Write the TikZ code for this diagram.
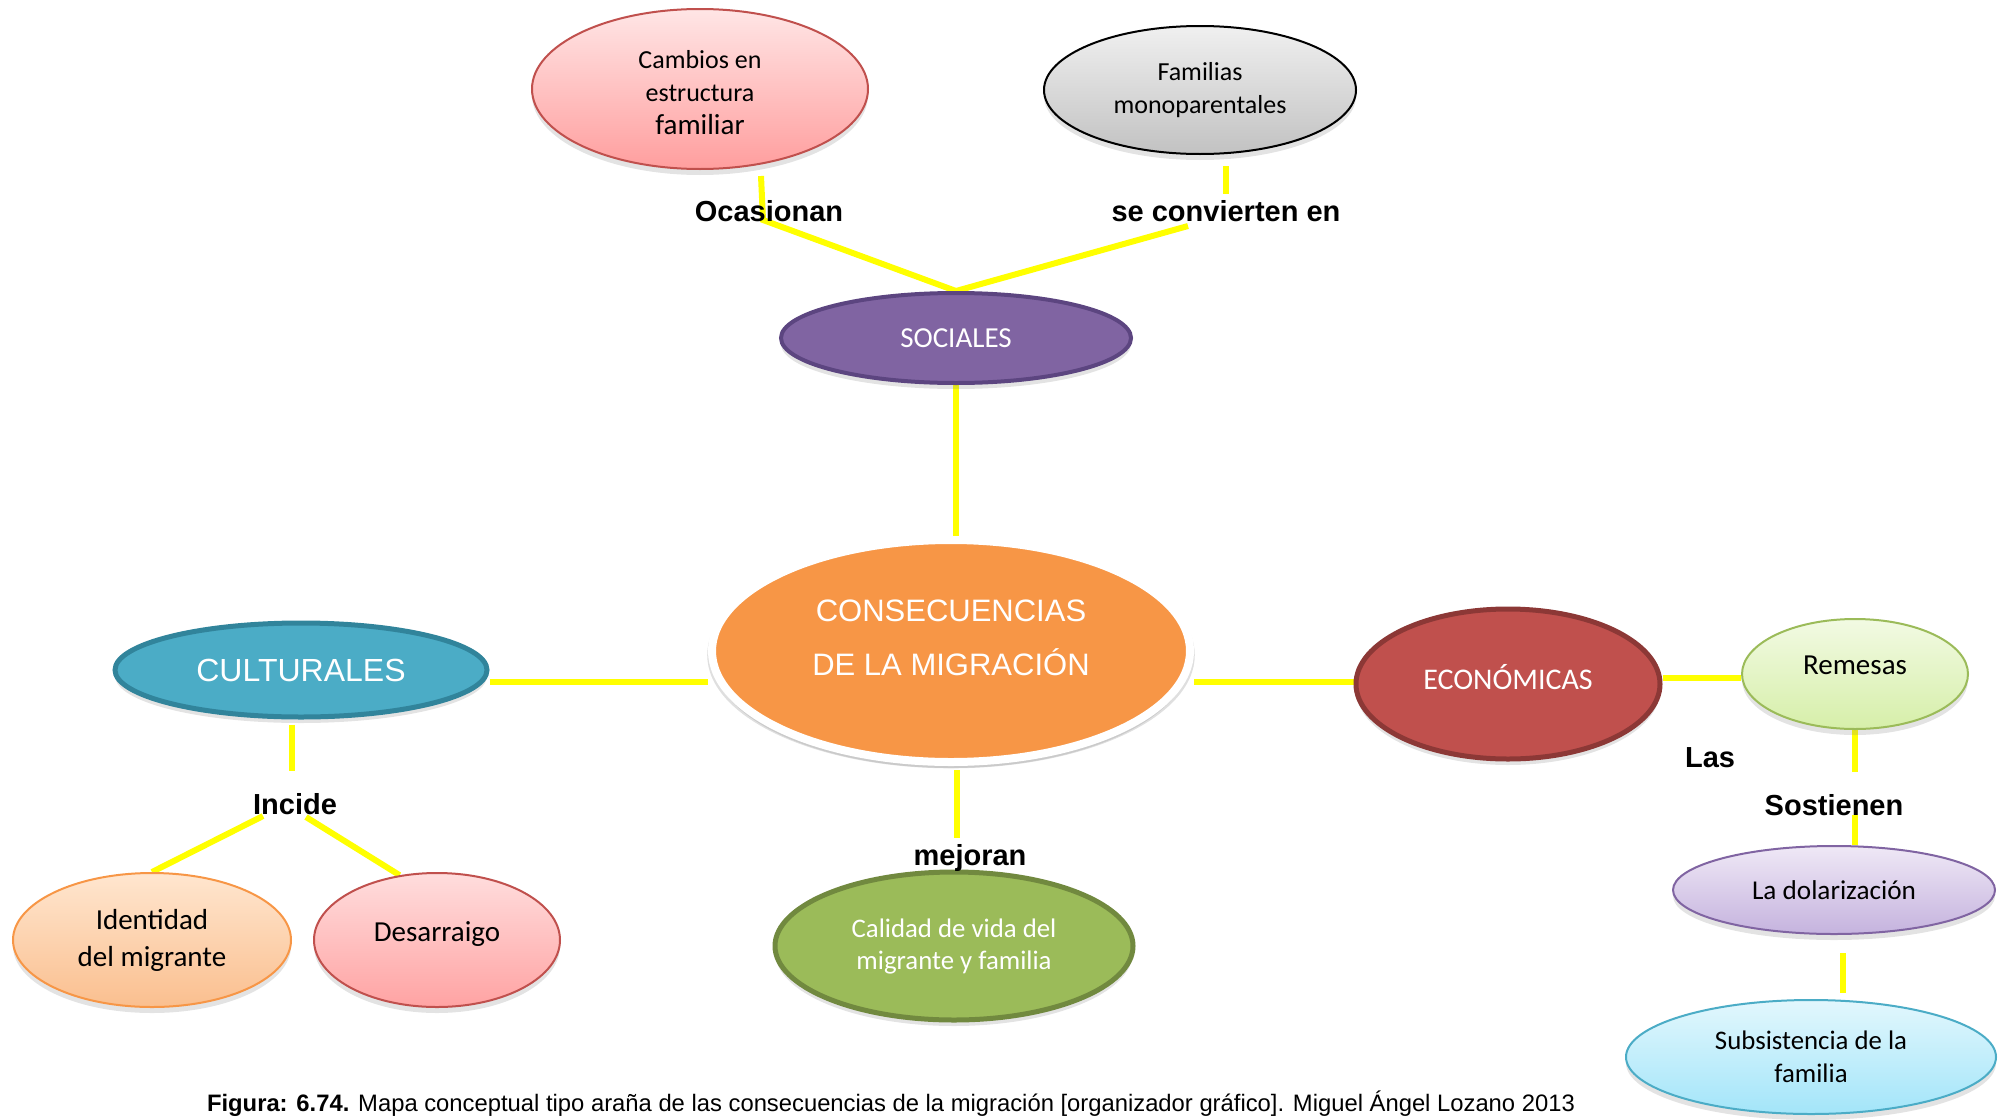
\documentclass[tikz,border=0pt]{standalone}
\usepackage{fontspec}
\setmainfont{Carlito}
\newfontfamily\arialf{Liberation Sans}
\usetikzlibrary{shapes.geometric,shadows,backgrounds}
\definecolor{ylw}{HTML}{FFFF00}
\begin{document}
\begin{tikzpicture}[x=0.5pt,y=-0.5pt,
  ell/.style={ellipse, inner sep=0pt, align=center,
    drop shadow={shadow xshift=0pt, shadow yshift=-3pt, opacity=0.22}},
  conn/.style={draw=ylw, line width=3pt},
  lbl/.style={font=\arialf\bfseries\fontsize{14.5}{17}\selectfont, inner sep=0pt},
  cal13/.style={font=\fontsize{13}{16.5}\selectfont},
  cal14/.style={font=\fontsize{14.5}{18.5}\selectfont},
]
\useasboundingbox (0,0) rectangle (2002,1119);

% ---- ellipses ----
\node[ell, minimum width=168pt, minimum height=80pt, top color=red!10!white, bottom color={rgb,255:red,255;green,158;blue,158}, draw={rgb,255:red,192;green,80;blue,77}, line width=1pt,
  label={[yshift=-2pt, cal13, align=center]center:Cambios en\\estructura\\{\fontsize{14.5}{16.5}\selectfont familiar}}]
  (camb) at (700,89) {};
\node[ell, cal13, minimum width=156pt, minimum height=64pt, top color=black!6, bottom color=black!24, draw=black, line width=1pt]
  (fam) at (1200,90) {Familias\\monoparentales};
\node[ell, cal14, minimum width=175pt, minimum height=45pt, fill={rgb,255:red,128;green,100;blue,162}, draw={rgb,255:red,92;green,69;blue,128}, line width=2pt, text=white]
  (soc) at (956,338) {SOCIALES};
\node[ell, minimum width=239pt, minimum height=111pt, fill={rgb,255:red,247;green,150;blue,70}, draw=white, line width=4pt,
  drop shadow={shadow xshift=0pt, shadow yshift=-2pt, shadow scale=1.02, opacity=0.25},
  label={[yshift=6.5pt, font=\arialf\fontsize{15.5}{27}\selectfont, text=white, align=center]center:CONSECUENCIAS\\DE LA MIGRACIÓN}]
  (cons) at (951,651) {};
\node[ell, minimum width=186pt, minimum height=47pt, fill={rgb,255:red,75;green,172;blue,198}, draw={rgb,255:red,49;green,132;blue,155}, line width=2.5pt, text=white, font=\arialf\fontsize{16}{19}\selectfont]
  (cult) at (301,670) {CULTURALES};
\node[ell, minimum width=152pt, minimum height=75pt, fill={rgb,255:red,192;green,80;blue,77}, draw={rgb,255:red,140;green,56;blue,54}, line width=2.5pt,
  label={[yshift=3.5pt, font=\fontsize{15}{18}\selectfont, text=white]center:ECONÓMICAS}]
  (econ) at (1508,684) {};
\node[ell, minimum width=113pt, minimum height=55pt, top color={rgb,255:red,242;green,250;blue,227}, bottom color={rgb,255:red,214;green,239;blue,169}, draw={rgb,255:red,155;green,187;blue,89}, line width=1pt,
  label={[yshift=4.5pt, cal14]center:Remesas}]
  (rem) at (1855,674) {};
\node[ell, font=\fontsize{13.6}{16.5}\selectfont, minimum width=161pt, minimum height=44pt, top color={rgb,255:red,239;green,232;blue,246}, bottom color={rgb,255:red,197;green,179;blue,222}, draw={rgb,255:red,128;green,100;blue,162}, line width=1pt]
  (dol) at (1834,890) {La dolarización};
\node[ell, font=\fontsize{13.4}{16.5}\selectfont, minimum width=185pt, minimum height=57pt, top color={rgb,255:red,226;green,247;blue,253}, bottom color={rgb,255:red,163;green,229;blue,249}, draw={rgb,255:red,75;green,172;blue,198}, line width=1pt]
  (subs) at (1811,1057) {Subsistencia de la\\familia};
\node[ell, font=\fontsize{13.4}{16}\selectfont, minimum width=179pt, minimum height=74pt, fill={rgb,255:red,155;green,187;blue,89}, draw={rgb,255:red,113;green,137;blue,63}, line width=2.5pt, text=white]
  (cal) at (954,946) {Calidad de vida del\\migrante y familia};
\node[ell, cal14, minimum width=139pt, minimum height=67pt, top color={rgb,255:red,255;green,230;blue,207}, bottom color={rgb,255:red,250;green,191;blue,143}, draw={rgb,255:red,247;green,150;blue,70}, line width=1pt]
  (iden) at (152,940) {Identidad\\del migrante};
\node[ell, minimum width=123pt, minimum height=67pt, top color={rgb,255:red,255;green,221;blue,221}, bottom color={rgb,255:red,255;green,163;blue,163}, draw={rgb,255:red,192;green,80;blue,77}, line width=1pt,
  label={[yshift=3pt, cal14]center:Desarraigo}]
  (desa) at (437,940) {};

% ---- link words ----
\node[lbl] (ocas) at (769,211) {Ocasionan};
\node[lbl] (conv) at (1226,211) {se convierten en};
\node[lbl] (inc) at (295,804) {Incide};
\node[lbl] (mej) at (970,858) {mejoran};
\node[lbl] (las) at (1710,758) {Las};
\node[lbl] (sost) at (1834,805) {Sostienen};

% ---- caption ----
\node[font=\arialf\fontsize{11.9}{13}\selectfont, inner sep=0pt] (cap) at (891,1104)
  {\textbf{Figura: 6.74.} Mapa conceptual tipo araña de las consecuencias de la migración [organizador gráfico]. Miguel Ángel Lozano 2013};

% ---- connectors ----
\coordinate (c1) at (761,176);
\coordinate (k1) at (763,220);
\coordinate (c2) at (1226,166);
\coordinate (c3) at (1226,194);
\coordinate (c4) at (1188,226);
\begin{pgfonlayer}{background}
\draw[conn] (c1) -- (k1) -- (soc.north);
\draw[conn] (c2) -- (c3);
\draw[conn] (c4) -- (soc.north);
\draw[conn] (soc.south) -- (soc.south |- cons.north);
\draw[conn] ([yshift=-6pt]cult.east) -- ([yshift=-6pt]cult.east -| cons.west);
\draw[conn] ([yshift=1pt]cons.east |- econ.west) -- ([yshift=1pt]econ.west);
\draw[conn] ([yshift=3pt]econ.east) -- ([yshift=3pt]econ.east -| rem.west);
\draw[conn] (rem.south) -- ++(0,42);
\draw[conn] (rem.south |- dol.north) -- ++(0,-30);
\draw[conn] ([xshift=4.5pt,yshift=-9pt]dol.south) -- ++(0,40);
\draw[conn] ([xshift=-4.5pt,yshift=-2.5pt]cult.south) -- ++(0,46);
\draw[conn] ([xshift=-16pt,yshift=-6pt]inc.center) -- (iden.north);
\draw[conn] ([xshift=5.5pt,yshift=-6.5pt]inc.center) -- (desa.120);
\draw[conn] ([xshift=3pt,yshift=-2pt]cons.south) -- ++(0,68);
\end{pgfonlayer}
\end{tikzpicture}
\end{document}
